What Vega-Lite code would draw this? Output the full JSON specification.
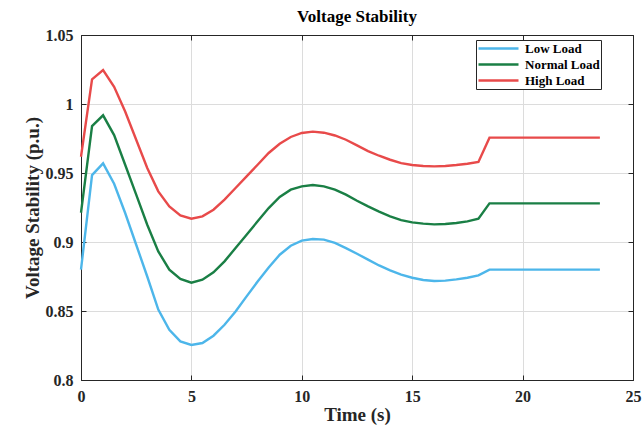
{
  "$schema": "https://vega.github.io/schema/vega-lite/v6.json",
  "autosize": "none",
  "width": 552,
  "height": 345,
  "padding": {"left": 81, "top": 35, "right": 11, "bottom": 45},
  "background": "white",
  "title": {"text": "Voltage Stability", "font": "Liberation Serif", "fontSize": 17, "fontWeight": "bold", "color": "#000000", "offset": 1, "anchor": "middle"},
  "config": {
    "view": {"stroke": "#262626", "strokeWidth": 1},
    "axis": {"labelFont": "Liberation Serif", "titleFont": "Liberation Serif", "labelFontWeight": "bold", "titleFontWeight": "bold", "labelColor": "#262626", "titleColor": "#262626", "domainColor": "#262626", "tickColor": "#262626", "gridColor": "#dcdcdc", "labelFontSize": 16, "titleFontSize": 19, "labelFlush": false}
  },
  "datasets": {
    "raw": [
      {"t":0,"low":0.880,"normal":0.9212,"high":0.9618},
      {"t":0.5,"low":0.9485,"normal":0.984,"high":1.0179},
      {"t":1,"low":0.957,"normal":0.9918,"high":1.0246},
      {"t":1.5,"low":0.9422,"normal":0.9775,"high":1.0125},
      {"t":2,"low":0.921,"normal":0.956,"high":0.9946},
      {"t":2.5,"low":0.898,"normal":0.9343,"high":0.9741},
      {"t":3,"low":0.875,"normal":0.9125,"high":0.9536},
      {"t":3.5,"low":0.851,"normal":0.8932,"high":0.9367},
      {"t":4,"low":0.8364,"normal":0.880,"high":0.9258},
      {"t":4.5,"low":0.828,"normal":0.8732,"high":0.9193},
      {"t":5,"low":0.8254,"normal":0.8705,"high":0.9169},
      {"t":5.5,"low":0.8268,"normal":0.8727,"high":0.9186},
      {"t":6,"low":0.8321,"normal":0.878,"high":0.9234},
      {"t":6.5,"low":0.840,"normal":0.886,"high":0.9307},
      {"t":7,"low":0.8497,"normal":0.8956,"high":0.9391},
      {"t":7.5,"low":0.8606,"normal":0.9053,"high":0.9475},
      {"t":8,"low":0.8714,"normal":0.915,"high":0.956},
      {"t":8.5,"low":0.8816,"normal":0.9246,"high":0.9645},
      {"t":9,"low":0.8908,"normal":0.9326,"high":0.9712},
      {"t":9.5,"low":0.8973,"normal":0.9379,"high":0.9761},
      {"t":10,"low":0.901,"normal":0.9403,"high":0.979},
      {"t":10.5,"low":0.9022,"normal":0.9413,"high":0.980},
      {"t":11,"low":0.9017,"normal":0.9403,"high":0.9792},
      {"t":11.5,"low":0.8993,"normal":0.9379,"high":0.9772},
      {"t":12,"low":0.8956,"normal":0.9343,"high":0.9741},
      {"t":12.5,"low":0.8915,"normal":0.9299,"high":0.970},
      {"t":13,"low":0.8872,"normal":0.9258,"high":0.9659},
      {"t":13.5,"low":0.883,"normal":0.922,"high":0.9625},
      {"t":14,"low":0.8794,"normal":0.9186,"high":0.9596},
      {"t":14.5,"low":0.8763,"normal":0.9159,"high":0.9572},
      {"t":15,"low":0.8741,"normal":0.9142,"high":0.9558},
      {"t":15.5,"low":0.8725,"normal":0.9133,"high":0.9551},
      {"t":16,"low":0.8717,"normal":0.9128,"high":0.9548},
      {"t":16.5,"low":0.872,"normal":0.913,"high":0.9551},
      {"t":17,"low":0.8729,"normal":0.9138,"high":0.9558},
      {"t":17.5,"low":0.8741,"normal":0.9149,"high":0.9567},
      {"t":18,"low":0.8758,"normal":0.9169,"high":0.958},
      {"t":18.5,"low":0.880,"normal":0.928,"high":0.9756},
      {"t":19,"low":0.880,"normal":0.928,"high":0.9756},
      {"t":19.5,"low":0.880,"normal":0.928,"high":0.9756},
      {"t":20,"low":0.880,"normal":0.928,"high":0.9756},
      {"t":20.5,"low":0.880,"normal":0.928,"high":0.9756},
      {"t":21,"low":0.880,"normal":0.928,"high":0.9756},
      {"t":21.5,"low":0.880,"normal":0.928,"high":0.9756},
      {"t":22,"low":0.880,"normal":0.928,"high":0.9756},
      {"t":22.5,"low":0.880,"normal":0.928,"high":0.9756},
      {"t":23,"low":0.880,"normal":0.928,"high":0.9756},
      {"t":23.5,"low":0.880,"normal":0.928,"high":0.9756}
    ]
  },
  "data": {"name": "raw"},
  "transform": [
    {"fold": ["low", "normal", "high"], "as": ["key", "v"]},
    {"lookup": "key", "from": {"data": {"values": [{"key": "low", "load": "Low Load"}, {"key": "normal", "load": "Normal Load"}, {"key": "high", "load": "High Load"}]}, "key": "key", "fields": ["load"]}}
  ],
  "layer": [
    {
      "mark": {"type": "line", "strokeWidth": 2.4},
      "encoding": {
        "x": {"field": "t", "type": "quantitative", "scale": {"domain": [0, 25], "nice": false, "zero": false}, "axis": {"title": "Time (s)", "values": [0, 5, 10, 15, 20, 25], "tickSize": -5, "labelPadding": 13, "titlePadding": 1, "grid": true, "format": "~g"}},
        "y": {"field": "v", "type": "quantitative", "scale": {"domain": [0.8, 1.05], "nice": false, "zero": false}, "axis": {"title": "Voltage Stability (p.u.)", "values": [0.8, 0.85, 0.9, 0.95, 1, 1.05], "tickSize": -5, "labelPadding": 13, "titlePadding": 3, "grid": true, "format": "~g"}},
        "color": {"field": "load", "type": "nominal", "scale": {"domain": ["Low Load", "Normal Load", "High Load"], "range": ["#4DB6EA", "#1A7F45", "#E84A4A"]}, "legend": {"title": null, "orient": "none", "legendX": 395, "legendY": 5, "direction": "vertical", "symbolType": "stroke", "symbolSize": 1600, "symbolStrokeWidth": 2.5, "clipHeight": 15, "labelFont": "Liberation Serif", "labelFontWeight": "bold", "labelFontSize": 13, "labelColor": "#000000", "strokeColor": "#262626", "fillColor": "white", "padding": 1, "rowPadding": 1, "labelOffset": 5}}
      }
    },
    {
      "mark": {"type": "line", "opacity": 0},
      "encoding": {
        "x": {"field": "t", "type": "quantitative", "axis": {"orient": "top", "title": null, "labels": false, "values": [0, 5, 10, 15, 20, 25], "tickSize": -5, "grid": false}},
        "y": {"field": "v", "type": "quantitative", "axis": {"orient": "right", "title": null, "labels": false, "values": [0.8, 0.85, 0.9, 0.95, 1, 1.05], "tickSize": -5, "grid": false}},
        "detail": {"field": "key"}
      }
    }
  ],
  "resolve": {"axis": {"x": "independent", "y": "independent"}}
}
